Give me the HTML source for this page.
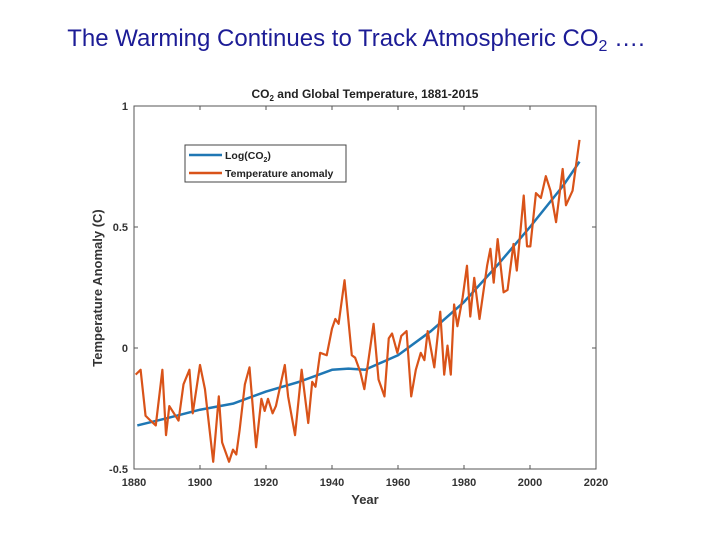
<!DOCTYPE html>
<html><head><meta charset="utf-8"><style>
body{margin:0;background:#fff;width:720px;height:540px;overflow:hidden;font-family:"Liberation Sans",sans-serif}
</style></head><body>
<svg width="720" height="540" xmlns="http://www.w3.org/2000/svg">
<text x="356" y="46" text-anchor="middle" font-size="24" fill="#1c1c96">The Warming Continues to Track Atmospheric CO<tspan font-size="16" dy="5">2</tspan><tspan dy="-5"> ….</tspan></text>
<text x="365" y="98" text-anchor="middle" font-size="12" font-weight="bold" fill="#222">CO<tspan font-size="8" dy="3">2</tspan><tspan dy="-3"> and Global Temperature, 1881-2015</tspan></text>
<g id="axes"></g>
<g id="series"></g>
<text transform="translate(102,288) rotate(-90)" text-anchor="middle" font-size="13" font-weight="bold" fill="#333">Temperature Anomaly (C)</text>
<text x="365" y="504" text-anchor="middle" font-size="13" font-weight="bold" fill="#333">Year</text>
<g>
<rect x="185" y="145" width="161" height="37" fill="#fff" stroke="#444" stroke-width="1"/>
<line x1="189" y1="155" x2="222" y2="155" stroke="#1f77b4" stroke-width="2.5"/>
<text x="225" y="159" font-size="10.5" font-weight="bold" fill="#222">Log(CO<tspan font-size="7" dy="3">2</tspan><tspan dy="-3">)</tspan></text>
<line x1="189" y1="173" x2="222" y2="173" stroke="#d95319" stroke-width="2.5"/>
<text x="225" y="177" font-size="10.5" font-weight="bold" fill="#222">Temperature anomaly</text>
</g>
</svg>
<script>
const tempYears=[1880.5,1882,1883.5,1885,1886.6,1888.6,1889.7,1890.7,1893.5,1895,1896.8,1897.8,1900,1901.5,1904,1905.7,1906.7,1908.8,1910,1911,1912,1913.6,1915,1917,1918.6,1919.6,1920.6,1922,1923,1925.7,1926.7,1928.8,1930.8,1932.8,1934,1935,1936.4,1938.4,1940,1941,1942,1943.8,1946,1947,1948.6,1949.8,1952.6,1954.1,1955.9,1957.2,1958.2,1959.8,1961,1962.6,1964,1965.4,1966.9,1968,1969,1971,1972.8,1974,1975,1976,1977,1978,1979.6,1980.9,1981.9,1983.1,1984.7,1987,1988,1989,1990.2,1992,1993.2,1995,1996,1998.1,1999.1,2000.1,2001.8,2003.3,2004.8,2006.2,2007.9,2009.9,2010.9,2012.9,2015];
const tempValues=[-0.11,-0.09,-0.28,-0.30,-0.32,-0.09,-0.36,-0.24,-0.30,-0.15,-0.09,-0.27,-0.07,-0.17,-0.47,-0.20,-0.39,-0.47,-0.42,-0.44,-0.34,-0.15,-0.08,-0.41,-0.21,-0.26,-0.21,-0.27,-0.24,-0.07,-0.20,-0.36,-0.09,-0.31,-0.14,-0.16,-0.02,-0.03,0.08,0.12,0.10,0.28,-0.03,-0.04,-0.10,-0.17,0.10,-0.13,-0.20,0.04,0.06,-0.02,0.05,0.07,-0.20,-0.09,-0.02,-0.05,0.07,-0.08,0.15,-0.11,0.01,-0.11,0.18,0.09,0.21,0.34,0.13,0.29,0.12,0.34,0.41,0.27,0.45,0.23,0.24,0.43,0.32,0.63,0.42,0.42,0.64,0.62,0.71,0.65,0.52,0.74,0.59,0.65,0.86];
const co2Years=[1881,1890,1900,1910,1920,1930,1940,1945,1950,1960,1970,1980,1990,2000,2010,2015];
const co2Values=[-0.32,-0.29,-0.255,-0.23,-0.18,-0.14,-0.09,-0.085,-0.09,-0.03,0.07,0.19,0.34,0.50,0.67,0.77];
const xTicks=[1880,1900,1920,1940,1960,1980,2000,2020];
const yTicks=[-0.5,0,0.5,1];
const yTickLabels=["-0.5","0","0.5","1"];
const X0=134,X1=596,Y0=469,Y1=106;
const xs=v=>X0+(v-1880)/140*(X1-X0);
const ys=v=>Y0-(v+0.5)/1.5*(Y0-Y1);
const NS="http://www.w3.org/2000/svg";
const ax=document.getElementById('axes'),se=document.getElementById('series');
function mk(tag,at,par){const e=document.createElementNS(NS,tag);for(const k in at)e.setAttribute(k,at[k]);par.appendChild(e);return e;}
const box=mk('rect',{x:X0,y:Y1,width:X1-X0,height:Y0-Y1,fill:'none',stroke:'#555','stroke-width':1},ax);


xTicks.forEach(t=>{const x=xs(t);
mk('line',{x1:x,x2:x,y1:Y0,y2:Y0-4,stroke:'#555'},ax);mk('line',{x1:x,x2:x,y1:Y1,y2:Y1+4,stroke:'#555'},ax);
const tx=mk('text',{x:x,y:Y0+17,'text-anchor':'middle','font-size':11,'font-weight':'bold',fill:'#333'},ax);tx.textContent=t;

});
yTicks.forEach((t,i)=>{const y=ys(t);
mk('line',{x1:X0,x2:X0+4,y1:y,y2:y,stroke:'#555'},ax);mk('line',{x1:X1,x2:X1-4,y1:y,y2:y,stroke:'#555'},ax);
const tx=mk('text',{x:X0-6,y:y+4,'text-anchor':'end','font-size':11,'font-weight':'bold',fill:'#333'},ax);tx.textContent=yTickLabels[i];

});
const co2=mk('polyline',{points:co2Years.map((y,i)=>xs(y)+','+ys(co2Values[i])).join(' '),fill:'none',stroke:'#1f77b4','stroke-width':2.5,'stroke-linejoin':'round'},se);


const tl=mk('polyline',{points:tempYears.map((y,i)=>xs(y)+','+ys(tempValues[i])).join(' '),fill:'none',stroke:'#d95319','stroke-width':2.2,'stroke-linejoin':'round'},se);


</script>
</body></html>
